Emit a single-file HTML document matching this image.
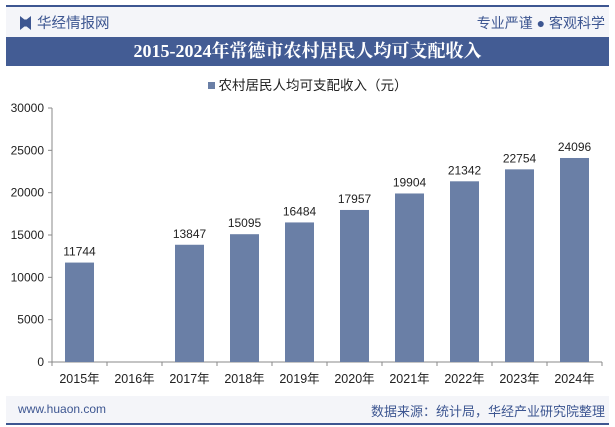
<!DOCTYPE html>
<html><head><meta charset="utf-8"><style>
body{margin:0;width:615px;height:427px;overflow:hidden;background:#fff;font-family:"Liberation Sans","Noto Sans CJK SC",sans-serif;position:relative}
.abs{position:absolute}
</style></head><body>
<div class="abs" style="left:6px;top:5px;width:603px;height:2px;background:#3d5691"></div>
<div class="abs" style="left:6px;top:7px;width:603px;height:30px;background:#f4f5f9"></div>
<div class="abs" style="left:20px;top:12px;font-size:14.5px;color:#3d5691"><span style="display:inline-block;width:11px;height:14px;background:#3d5691;vertical-align:-2px;margin-right:6px;clip-path:polygon(0 0,40% 25%,60% 25%,100% 0,100% 100%,60% 75%,40% 75%,0 100%)"></span>华经情报网</div>
<div class="abs" style="right:10px;top:13px;font-size:14px;color:#3d5691">专业严谨 ● 客观科学</div>
<div class="abs" style="left:6px;top:37px;width:603px;height:29px;background:#435c94;color:#fff;font-size:18px;font-weight:bold;text-align:center;line-height:29px;font-family:'Liberation Serif','Noto Serif CJK SC',serif">2015-2024年常德市农村居民人均可支配收入</div>
<div class="abs" style="left:0;width:615px;top:74px;text-align:center;font-size:13.5px;color:#222"><span style="display:inline-block;width:7px;height:7px;background:#6a7fa6;margin-right:4px;vertical-align:1px"></span>农村居民人均可支配收入（元）</div>
<svg class="abs" style="left:0;top:0" width="615" height="427" id="svg"></svg>
<div class="abs" style="left:6px;top:396px;width:603px;height:28px;background:#f4f5f9"></div>
<div class="abs" style="left:6px;top:423px;width:603px;height:2px;background:#3d5691"></div>
<div class="abs" style="left:18px;top:402px;font-size:12px;color:#3d5691">www.huaon.com</div>
<div class="abs" style="right:10px;top:401px;font-size:13px;color:#3d5691">数据来源：统计局，华经产业研究院整理</div>
<script>
const categories=["2015年","2016年","2017年","2018年","2019年","2020年","2021年","2022年","2023年","2024年"];
const values=[11744,null,13847,15095,16484,17957,19904,21342,22754,24096];
const ticks=[0,5000,10000,15000,20000,25000,30000];
const svg=document.getElementById('svg'),NS='http://www.w3.org/2000/svg';
const x0=52,x1=602,y0=362,y1=108,max=30000;
const step=(x1-x0)/categories.length;
const y=v=>y0-(v/max)*(y0-y1);
const xc=i=>x0+step*(i+0.5);
function el(t,a,txt){const e=document.createElementNS(NS,t);for(const k in a)e.setAttribute(k,a[k]);if(txt!=null)e.textContent=txt;svg.appendChild(e);return e;}
let ax=el('line',{x1:x0,x2:x0,y1:y1,y2:y0,stroke:'#888'});

let bx=el('line',{x1:x0,x2:x1,y1:y0,y2:y0,stroke:'#888'});

ticks.forEach(t=>{
 el('line',{x1:x0-4,x2:x0,y1:y(t),y2:y(t),stroke:'#888'});
 const l=el('text',{x:x0-8,y:y(t)+4,'text-anchor':'end','font-size':12,fill:'#222'},t);
 
});
for(let i=0;i<=categories.length;i++)el('line',{x1:x0+step*i,x2:x0+step*i,y1:y0,y2:y0+4,stroke:'#888'});
categories.forEach((c,i)=>{
 const l=el('text',{x:xc(i),y:y0+21,'text-anchor':'middle','font-size':12.5,fill:'#222'},c);
 
 const v=values[i];if(v==null)return;
 const r=el('rect',{x:xc(i)-14.5,y:y(v),width:29,height:y0-y(v),fill:'#6a7fa6'});
 
 const t=el('text',{x:xc(i),y:y(v)-7,'text-anchor':'middle','font-size':12,fill:'#222'},v);
 
});
</script>
</body></html>
